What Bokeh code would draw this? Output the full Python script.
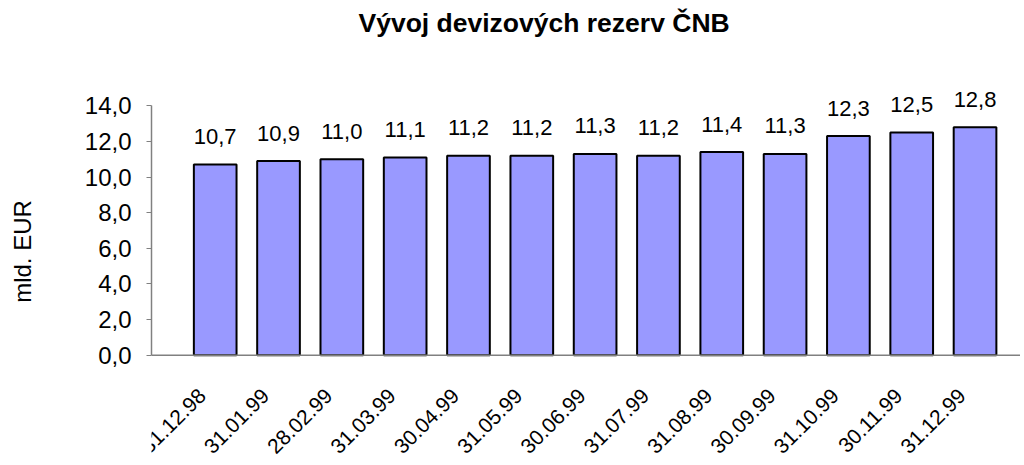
import math
from bokeh.plotting import figure
from bokeh.models import (Range1d, FixedTicker, CustomJSTickFormatter, Span, Title)
from bokeh.core.properties import value
from bokeh.embed import file_html
from bokeh.resources import INLINE

dates = ["31.12.98", "31.01.99", "28.02.99", "31.03.99", "30.04.99", "31.05.99",
         "30.06.99", "31.07.99", "31.08.99", "30.09.99", "31.10.99", "30.11.99", "31.12.99"]
reserves = [10.7, 10.9, 11.0, 11.1, 11.2, 11.2, 11.3, 11.2, 11.4, 11.3, 12.3, 12.5, 12.8]
y_ticks = [0, 2, 4, 6, 8, 10, 12, 14]

idx = list(range(len(dates)))
labels = [f"{v:.1f}".replace(".", ",") for v in reserves]
zeros = [0] * len(dates)

FONT = "Liberation Sans"

p = figure(width=1020, height=460, output_backend="svg", toolbar_location=None,
           x_axis_location=None,
           x_range=Range1d(-1.006, 12.718), y_range=Range1d(-5.905, 17.55),
           min_border_left=151, min_border_right=0, min_border_top=40, min_border_bottom=0)
p.outline_line_color = None
p.grid.visible = False
p.background_fill_color = "white"

p.vbar(x=idx, top=reserves, width=0.674,
       fill_color="#9999FF", line_color="black", line_width=2)

# value labels above bars
p.text(x=idx, y=reserves, text=labels, text_align="center", text_baseline="alphabetic",
       y_offset=-28, text_font=value(FONT), text_font_size="22px", text_color="black")

# category axis line at zero
p.add_layout(Span(location=0, dimension="width", line_color="#808080", line_width=1.5))

# rotated date labels under the categories
p.text(x=idx, y=zeros, text=dates, angle=math.pi / 4, text_align="right",
       text_baseline="middle", x_offset=-13, y_offset=37,
       text_font=value(FONT), text_font_size="21px", text_color="black")

# y axis
ya = p.yaxis[0]
ya.bounds = (0, 14)
ya.ticker = FixedTicker(ticks=y_ticks)
ya.formatter = CustomJSTickFormatter(code="return tick.toFixed(1).replace('.', ',');")
ya.minor_tick_line_color = None
ya.major_tick_in = 0
ya.major_tick_out = 5
ya.axis_line_color = "#808080"
ya.major_tick_line_color = "#808080"
ya.axis_line_width = 1.5
ya.major_label_text_font = FONT
ya.major_label_text_font_size = "24px"
ya.major_label_text_color = "black"
ya.major_label_standoff = 15
ya.axis_label = "mld. EUR"
ya.axis_label_text_font = FONT
ya.axis_label_text_font_size = "24px"
ya.axis_label_text_font_style = "normal"
ya.axis_label_text_color = "black"
ya.axis_label_standoff = 46

p.title = Title(text="Vývoj devizových rezerv ČNB", align="left", offset=207,
                text_font=FONT, text_font_size="26.5px", text_font_style="bold",
                text_color="black")

open("out.html", "w").write(file_html(p, INLINE))
